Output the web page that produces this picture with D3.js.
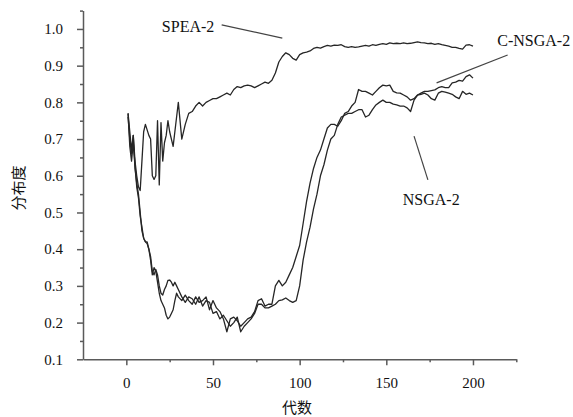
<!DOCTYPE html>
<html lang="zh-cn">
<head>
  <meta charset="utf-8">
  <title>分布度</title>
  <script src="https://d3js.org/d3.v7.min.js"></script>
  <style>
    body { margin: 0; background: #fff; }
    .mychart text { font-family: "Liberation Serif", "Times New Roman", serif; fill: #111; }
    .mychart .axis path, .mychart .axis line { stroke: #5a5a5a; stroke-width: 1.5; }
    .mychart .axis text { font-family: "Liberation Serif", "Times New Roman", serif; font-size: 15px; fill: #111; }
    .mychart .titulo { font-family: "Noto Sans CJK SC", sans-serif; font-size: 15px; }
    .mychart .serie { fill: none; stroke: #262626; stroke-width: 1.3; stroke-linejoin: round; }
    .mychart .guia { stroke: #444; stroke-width: 1.2; }
    .mychart .rotulo { font-size: 16px; }
  </style>
</head>
<body>
  <div class="mychart" id="chart"></div>

  <script type="text/javascript">
    "use strict"

    // geracoes (eixo x)
    var geracoes = [
      1, 2, 3, 4, 5, 6, 7, 8, 9, 10,
      11, 12, 13, 14, 15, 16, 17, 18, 19, 20,
      21, 22, 23, 24, 25, 26, 27, 28, 29, 30,
      32, 34, 36, 38, 40, 42, 44, 46, 48, 50,
      52, 54, 56, 58, 60, 62, 64, 66, 68, 70,
      72, 74, 76, 78, 80, 82, 84, 86, 88, 90,
      92, 94, 96, 98, 100, 102, 104, 106, 108, 110,
      112, 114, 116, 118, 120, 122, 124, 126, 128, 130,
      132, 134, 136, 138, 140, 142, 144, 146, 148, 150,
      152, 154, 156, 158, 160, 162, 164, 166, 168, 170,
      172, 174, 176, 178, 180, 182, 184, 186, 188, 190,
      192, 194, 196, 198, 200
    ];

    var spea2 = [
      0.77, 0.72, 0.67, 0.71, 0.64, 0.60, 0.57, 0.56, 0.64, 0.72,
      0.74, 0.725, 0.71, 0.70, 0.60, 0.59, 0.60, 0.75, 0.575, 0.745,
      0.64, 0.69, 0.71, 0.75, 0.72, 0.70, 0.68, 0.72, 0.76, 0.80,
      0.70, 0.74, 0.77, 0.775, 0.79, 0.80, 0.79, 0.80, 0.805, 0.81,
      0.81, 0.815, 0.82, 0.825, 0.82, 0.835, 0.843, 0.84, 0.845, 0.847,
      0.845, 0.84, 0.845, 0.85, 0.855, 0.852, 0.86, 0.88, 0.91, 0.925,
      0.935, 0.93, 0.92, 0.915, 0.93, 0.935, 0.937, 0.94, 0.947, 0.95,
      0.948, 0.952, 0.955, 0.953, 0.956, 0.955, 0.957, 0.952, 0.95, 0.952,
      0.95, 0.951, 0.953, 0.955, 0.953, 0.957, 0.955, 0.958, 0.96, 0.958,
      0.962, 0.96, 0.961, 0.96, 0.962, 0.96, 0.961, 0.963, 0.965, 0.963,
      0.962, 0.96, 0.961, 0.958, 0.96, 0.957, 0.955, 0.953, 0.95, 0.95,
      0.947, 0.945, 0.956, 0.957, 0.953
    ];

    var nsga2 = [
      0.76, 0.70, 0.66, 0.71, 0.62, 0.58, 0.55, 0.50, 0.45, 0.43,
      0.42, 0.42, 0.40, 0.37, 0.33, 0.35, 0.34, 0.31, 0.28, 0.26,
      0.25, 0.24, 0.22, 0.21, 0.215, 0.225, 0.235, 0.26, 0.28, 0.27,
      0.26, 0.275, 0.26, 0.25, 0.27, 0.255, 0.26, 0.27, 0.235, 0.26,
      0.24, 0.23, 0.21, 0.175, 0.21, 0.215, 0.205, 0.19, 0.2, 0.21,
      0.215, 0.23, 0.26, 0.265, 0.245, 0.25, 0.25, 0.3, 0.315, 0.30,
      0.31, 0.33, 0.35, 0.38, 0.41, 0.47, 0.53, 0.58, 0.62, 0.65,
      0.67, 0.70, 0.73, 0.74, 0.74, 0.735, 0.75, 0.77, 0.775, 0.79,
      0.80, 0.835, 0.83, 0.83, 0.825, 0.82, 0.83, 0.84, 0.847, 0.845,
      0.847, 0.83, 0.826, 0.825, 0.82, 0.815, 0.806, 0.81, 0.82, 0.822,
      0.825, 0.82, 0.81, 0.806, 0.825, 0.83, 0.828, 0.825, 0.822, 0.815,
      0.81, 0.83, 0.822, 0.825, 0.82
    ];

    var cnsga2 = [
      0.77, 0.68, 0.64, 0.69, 0.63, 0.57, 0.54, 0.49, 0.46, 0.43,
      0.42, 0.415, 0.40, 0.38, 0.34, 0.33, 0.345, 0.33, 0.30, 0.28,
      0.275, 0.29, 0.30, 0.315, 0.316, 0.31, 0.30, 0.31, 0.30, 0.29,
      0.27, 0.255, 0.27, 0.265, 0.25, 0.27, 0.245, 0.26, 0.255, 0.225,
      0.23, 0.21, 0.22, 0.205, 0.19, 0.2, 0.215, 0.175, 0.19, 0.2,
      0.21, 0.225, 0.25, 0.25, 0.24, 0.24, 0.245, 0.25, 0.26, 0.262,
      0.267, 0.26, 0.255, 0.26, 0.30, 0.37, 0.42, 0.46, 0.51, 0.55,
      0.60, 0.63, 0.67, 0.70, 0.71, 0.74, 0.76, 0.765, 0.77, 0.77,
      0.775, 0.78, 0.78, 0.76, 0.765, 0.78, 0.793, 0.80, 0.806, 0.80,
      0.80, 0.795, 0.793, 0.79, 0.79, 0.785, 0.775, 0.806, 0.82, 0.825,
      0.83, 0.83, 0.832, 0.834, 0.84, 0.843, 0.84, 0.84, 0.853, 0.855,
      0.86, 0.858, 0.87, 0.875, 0.866
    ];

    var ticksX = [0, 50, 100, 150, 200];
    var ticksXmenor = [25, 75, 125, 175, 225];
    var ticksY = [0.1, 0.2, 0.3, 0.4, 0.5, 0.6, 0.7, 0.8, 0.9, 1.0];
    var ticksYmenor = [0.15, 0.25, 0.35, 0.45, 0.55, 0.65, 0.75, 0.85, 0.95, 1.05];

    // rotulos das series: texto, posicao do texto e da linha guia (em unidades dos dados)
    var rotulos = ["SPEA-2", "C-NSGA-2", "NSGA-2"];
    var rotuloPos = [[20.5, 0.992], [214, 0.954], [159.5, 0.52]];
    var guias = [[[55, 1.011], [90, 0.975]], [[220, 0.929], [179, 0.853]], [[166, 0.708], [174, 0.589]]];

    var larguraSVG = 573, alturaSVG = 417;

    var svg = d3.select('#chart')
      .append('svg')
        .attr('width', larguraSVG)
        .attr('height', alturaSVG);

    var x = d3.scaleLinear().domain([-25, 225]).range([83, 516.3]);
    var y = d3.scaleLinear().domain([0.1, 1.05]).range([359.3, 10.6]);

    /*
     * Os eixos
     */
    svg.append('g')
        .attr('class', 'axis')
        .attr('transform', 'translate(0,' + y(0.1) + ')')
        .call(d3.axisBottom(x).tickValues(ticksXmenor).tickSize(3).tickSizeOuter(0).tickFormat(''));
    svg.append('g')
        .attr('class', 'axis')
        .attr('transform', 'translate(0,' + y(0.1) + ')')
        .call(d3.axisBottom(x).tickValues(ticksX).tickSize(6).tickSizeOuter(0).tickPadding(12))
        .select('.domain').remove();

    svg.append('g')
        .attr('class', 'axis')
        .attr('transform', 'translate(' + x(-25) + ',0)')
        .call(d3.axisLeft(y).tickValues(ticksYmenor).tickSize(3).tickSizeOuter(0).tickFormat(''));
    svg.append('g')
        .attr('class', 'axis')
        .attr('transform', 'translate(' + x(-25) + ',0)')
        .call(d3.axisLeft(y).tickValues(ticksY).tickSize(6).tickPadding(14).tickFormat(d3.format('.1f')))
        .select('.domain').remove();

    // d3 poe font-family no <g>; forca a serifada nos numeros
    svg.selectAll('.axis')
      .attr('font-family', '"Liberation Serif", "Times New Roman", serif')
      .attr('font-size', 15);

    svg.append('text')
      .attr('class', 'titulo')
      .attr('x', 297).attr('y', 413)
      .attr('text-anchor', 'middle')
      .text('代数');

    svg.append('text')
      .attr('class', 'titulo')
      .attr('transform', 'translate(24,188) rotate(-90)')
      .attr('text-anchor', 'middle')
      .text('分布度');

    /*
     * As linhas
     */
    var linha = d3.line()
      .x((d, i) => x(geracoes[i]))
      .y(d => y(d));

    [spea2, nsga2, cnsga2].forEach(function(serie) {
      svg.append('path')
        .attr('class', 'serie')
        .attr('d', linha(serie));
    });

    // rotulos e guias
    svg.selectAll('.guia')
      .data(guias)
      .enter()
        .append('line')
        .attr('class', 'guia')
        .attr('x1', d => x(d[0][0])).attr('y1', d => y(d[0][1]))
        .attr('x2', d => x(d[1][0])).attr('y2', d => y(d[1][1]));

    svg.selectAll('.rotulo')
      .data(rotulos)
      .enter()
        .append('text')
        .attr('class', 'rotulo')
        .attr('x', (d, i) => x(rotuloPos[i][0]))
        .attr('y', (d, i) => y(rotuloPos[i][1]))
        .text(d => d);
  </script>
</body>
</html>
